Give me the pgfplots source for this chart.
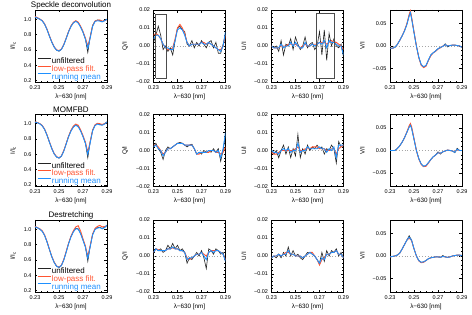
\documentclass[border=0pt]{standalone}
\usepackage{fontspec}
\setmainfont{Liberation Sans}
\usepackage{pgfplots}
\usepackage{pgfplotstable}
\pgfplotsset{compat=1.18}
\definecolor{cblack}{RGB}{35,35,35}
\definecolor{cred}{RGB}{255,85,50}
\definecolor{cblue}{RGB}{30,144,255}

% ---------------- Stokes I ----------------
\pgfplotstableread{
x k r b
0.230 1.030 1.035 1.028
0.232 1.015 1.020 1.015
0.234 1.000 1.002 1.000
0.236 0.980 0.982 0.978
0.238 0.935 0.940 0.935
0.240 0.865 0.870 0.865
0.242 0.780 0.785 0.780
0.244 0.700 0.705 0.700
0.246 0.635 0.640 0.635
0.248 0.595 0.600 0.595
0.250 0.582 0.590 0.585
0.252 0.605 0.610 0.605
0.254 0.665 0.670 0.665
0.256 0.750 0.752 0.748
0.258 0.840 0.840 0.835
0.260 0.910 0.912 0.905
0.262 0.955 0.960 0.952
0.264 0.975 0.980 0.972
0.266 0.955 0.962 0.950
0.268 0.900 0.908 0.895
0.270 0.830 0.840 0.830
0.272 0.740 0.755 0.740
0.274 0.565 0.650 0.620
0.276 0.770 0.765 0.755
0.278 0.920 0.912 0.905
0.280 0.975 0.975 0.970
0.282 0.990 0.985 0.980
0.284 0.985 0.990 0.975
0.286 0.970 0.975 0.965
0.288 0.985 0.980 0.980
0.290 1.000 0.995 1.000
}\tIa
\pgfplotstableread{
x k r b
0.230 1.025 1.025 1.020
0.232 1.015 1.015 1.012
0.234 1.000 1.000 0.998
0.236 0.975 0.978 0.972
0.238 0.925 0.930 0.925
0.240 0.850 0.855 0.850
0.242 0.760 0.765 0.760
0.244 0.675 0.680 0.675
0.246 0.605 0.610 0.605
0.248 0.565 0.570 0.565
0.250 0.550 0.555 0.552
0.252 0.575 0.580 0.575
0.254 0.645 0.650 0.642
0.256 0.740 0.742 0.735
0.258 0.835 0.838 0.830
0.260 0.910 0.915 0.905
0.262 0.960 0.970 0.955
0.264 0.985 0.995 0.980
0.266 0.965 0.980 0.960
0.268 0.910 0.920 0.905
0.270 0.835 0.845 0.830
0.272 0.745 0.760 0.745
0.274 0.555 0.630 0.600
0.276 0.765 0.765 0.750
0.278 0.915 0.915 0.905
0.280 0.980 0.985 0.975
0.282 1.000 1.005 0.995
0.284 0.990 1.000 0.985
0.286 0.985 0.990 0.980
0.288 1.000 1.000 0.995
0.290 1.025 1.015 1.020
}\tIb
\pgfplotstableread{
x k r b
0.230 1.035 1.035 1.030
0.232 1.020 1.020 1.018
0.234 1.000 1.005 1.000
0.236 0.975 0.980 0.972
0.238 0.920 0.925 0.918
0.240 0.835 0.840 0.835
0.242 0.735 0.740 0.735
0.244 0.640 0.645 0.640
0.246 0.565 0.570 0.565
0.248 0.515 0.520 0.515
0.250 0.500 0.505 0.502
0.252 0.525 0.530 0.525
0.254 0.600 0.605 0.598
0.256 0.705 0.710 0.700
0.258 0.815 0.818 0.810
0.260 0.905 0.910 0.900
0.262 0.970 0.980 0.965
0.264 1.010 1.030 1.005
0.266 1.005 1.045 1.000
0.268 0.945 0.975 0.940
0.270 0.860 0.875 0.855
0.272 0.770 0.780 0.765
0.274 0.580 0.645 0.620
0.276 0.780 0.785 0.770
0.278 0.935 0.935 0.925
0.280 1.000 1.010 0.995
0.282 1.020 1.035 1.015
0.284 1.025 1.050 1.020
0.286 1.010 1.030 1.005
0.288 1.025 1.035 1.020
0.290 1.055 1.040 1.050
}\tIc

% ---------------- Stokes Q ----------------
\pgfplotstableread{
x k r b
0.230 0.002 0.006 0.004
0.232 0.006 0.007 0.006
0.234 0.011 0.006 0.006
0.236 0.006 0.004 0.004
0.238 -0.002 0.001 0.001
0.240 0.000 -0.001 -0.001
0.242 -0.003 -0.002 -0.001
0.244 -0.001 -0.002 -0.002
0.246 -0.005 -0.001 -0.002
0.248 0.003 0.004 0.003
0.250 0.010 0.010 0.009
0.252 0.011 0.012 0.010
0.254 0.009 0.010 0.009
0.256 0.008 0.007 0.006
0.258 0.001 0.002 0.002
0.260 0.000 0.000 0.000
0.262 0.003 0.001 0.001
0.264 -0.001 0.001 0.001
0.266 0.002 0.001 0.001
0.268 0.000 0.001 0.001
0.270 0.003 0.002 0.002
0.272 0.001 0.002 0.001
0.274 -0.001 0.001 0.001
0.276 0.002 0.002 0.002
0.278 0.003 0.001 0.001
0.280 -0.001 0.000 0.000
0.282 0.002 -0.001 -0.001
0.284 -0.004 -0.002 -0.002
0.286 -0.004 -0.002 -0.003
0.288 0.001 0.000 0.000
0.290 0.007 0.006 0.008
}\tQa
\pgfplotstableread{
x k r b
0.230 0.002 0.003 0.002
0.232 0.004 0.003 0.003
0.234 0.001 0.002 0.001
0.236 -0.001 0.000 0.000
0.238 -0.005 -0.002 -0.003
0.240 0.000 -0.001 -0.001
0.242 0.002 0.001 0.001
0.244 0.001 0.001 0.001
0.246 0.002 0.002 0.002
0.248 0.003 0.003 0.003
0.250 0.004 0.004 0.004
0.252 0.0045 0.004 0.004
0.254 0.004 0.004 0.004
0.256 0.003 0.003 0.003
0.258 0.002 0.003 0.003
0.260 0.003 0.003 0.003
0.262 0.0035 0.003 0.003
0.264 0.001 0.001 0.001
0.266 -0.002 -0.002 -0.002
0.268 -0.001 -0.002 -0.001
0.270 -0.002 -0.001 -0.001
0.272 0.000 -0.001 -0.001
0.274 -0.001 -0.001 -0.001
0.276 0.000 -0.001 0.000
0.278 -0.001 0.000 0.000
0.280 0.001 0.000 0.000
0.282 -0.001 -0.001 -0.001
0.284 0.001 -0.001 0.000
0.286 -0.006 -0.002 -0.004
0.288 0.000 -0.001 0.001
0.290 0.009 0.002 0.010
}\tQb
\pgfplotstableread{
x k r b
0.230 0.002 0.002 0.002
0.232 0.004 0.004 0.004
0.234 0.003 0.0035 0.003
0.236 0.004 0.003 0.003
0.238 0.002 0.003 0.003
0.240 0.003 0.003 0.003
0.242 0.006 0.004 0.004
0.244 0.004 0.004 0.004
0.246 0.007 0.0045 0.005
0.248 0.004 0.004 0.004
0.250 0.006 0.004 0.004
0.252 0.003 0.003 0.003
0.254 0.004 0.003 0.003
0.256 0.002 0.002 0.002
0.258 -0.004 -0.001 -0.002
0.260 -0.001 -0.002 -0.001
0.262 -0.002 -0.001 -0.001
0.264 0.000 0.000 0.000
0.266 0.002 0.001 0.001
0.268 0.000 0.001 0.001
0.270 0.003 0.002 0.002
0.272 -0.001 0.001 0.000
0.274 -0.007 0.000 -0.002
0.276 0.004 0.002 0.002
0.278 0.003 0.003 0.003
0.280 0.001 0.003 0.002
0.282 0.004 0.003 0.003
0.284 0.003 0.003 0.003
0.286 0.001 0.002 0.002
0.288 0.002 0.001 0.001
0.290 -0.003 -0.002 -0.003
}\tQc

% ---------------- Stokes U ----------------
\pgfplotstableread{
x k r b
0.230 0.000 0.000 0.000
0.232 -0.001 -0.001 -0.001
0.234 0.000 -0.001 -0.001
0.236 -0.003 -0.001 -0.001
0.238 0.003 0.000 0.001
0.240 -0.005 0.000 -0.001
0.242 0.001 0.000 0.000
0.244 0.000 0.001 0.000
0.246 0.004 0.001 0.002
0.248 -0.002 0.001 0.000
0.250 0.005 0.001 0.002
0.252 0.001 0.000 0.000
0.254 -0.002 -0.001 -0.001
0.256 0.000 0.000 -0.001
0.258 0.005 0.001 0.002
0.260 -0.001 0.000 0.000
0.262 0.001 0.000 0.000
0.264 0.002 0.001 0.001
0.266 -0.002 0.001 0.000
0.268 0.000 0.001 0.001
0.270 0.008 0.002 0.002
0.272 -0.005 0.002 0.001
0.274 0.009 0.002 0.003
0.276 -0.008 0.001 -0.001
0.278 0.007 0.002 0.003
0.280 0.000 0.003 0.002
0.282 0.004 0.002 0.002
0.284 0.000 0.002 0.001
0.286 -0.001 0.001 0.000
0.288 0.001 0.000 0.000
0.290 -0.006 -0.002 -0.005
}\tUa
\pgfplotstableread{
x k r b
0.230 0.000 -0.001 0.000
0.232 -0.002 -0.002 -0.001
0.234 0.000 -0.002 -0.001
0.236 -0.004 -0.001 -0.002
0.238 0.000 0.000 0.000
0.240 0.003 0.000 0.001
0.242 -0.002 0.000 0.000
0.244 0.002 0.000 0.001
0.246 -0.004 0.000 -0.001
0.248 0.001 0.000 0.000
0.250 -0.003 0.001 0.000
0.252 0.009 0.002 0.004
0.254 -0.004 0.000 -0.001
0.256 0.001 0.000 0.000
0.258 -0.002 0.001 0.000
0.260 0.003 0.001 0.002
0.262 0.000 0.001 0.001
0.264 0.002 0.002 0.001
0.266 0.001 0.002 0.001
0.268 0.003 0.002 0.001
0.270 0.001 0.001 0.002
0.272 0.002 0.001 0.001
0.274 -0.002 0.001 0.001
0.276 0.001 0.000 -0.001
0.278 0.000 0.000 0.001
0.280 0.003 0.001 0.000
0.282 0.001 0.001 0.002
0.284 -0.007 -0.002 -0.004
0.286 0.005 0.001 0.003
0.288 0.002 0.002 0.003
0.290 0.003 0.003 0.003
}\tUb
\pgfplotstableread{
x k r b
0.230 -0.001 -0.001 -0.001
0.232 0.000 0.000 0.000
0.234 -0.001 0.000 0.000
0.236 0.001 0.001 0.001
0.238 -0.001 0.000 0.000
0.240 0.002 0.001 0.001
0.242 0.000 0.002 0.001
0.244 0.005 0.002 0.003
0.246 0.000 0.001 0.001
0.248 0.003 0.001 0.001
0.250 0.000 0.000 0.000
0.252 0.001 0.000 0.000
0.254 -0.001 0.000 0.000
0.256 -0.002 -0.001 -0.001
0.258 0.000 0.000 0.000
0.260 0.002 0.001 0.001
0.262 0.002 0.002 0.002
0.264 0.001 0.002 0.001
0.266 0.000 0.000 0.000
0.268 -0.002 -0.002 -0.002
0.270 -0.004 -0.005 -0.004
0.272 0.002 -0.002 -0.001
0.274 -0.003 -0.001 -0.002
0.276 0.003 0.001 0.001
0.278 0.000 0.001 0.001
0.280 0.003 0.002 0.002
0.282 0.002 0.002 0.002
0.284 0.004 0.003 0.003
0.286 0.000 0.001 0.001
0.288 0.002 0.001 0.001
0.290 -0.001 -0.001 -0.001
}\tUc

% ---------------- Stokes V ----------------
\pgfplotstableread{
x k r b
0.230 -0.005 -0.005 -0.005
0.232 -0.005 -0.005 -0.005
0.234 -0.003 -0.003 -0.003
0.236 0.003 0.003 0.003
0.238 0.012 0.012 0.012
0.240 0.022 0.022 0.022
0.242 0.033 0.034 0.033
0.244 0.048 0.049 0.047
0.246 0.068 0.070 0.067
0.247 0.076 0.078 0.074
0.248 0.062 0.064 0.061
0.250 0.030 0.032 0.030
0.252 0.000 0.000 0.000
0.254 -0.025 -0.026 -0.025
0.256 -0.042 -0.043 -0.041
0.258 -0.047 -0.048 -0.046
0.260 -0.044 -0.045 -0.043
0.262 -0.032 -0.032 -0.031
0.264 -0.020 -0.022 -0.020
0.266 -0.015 -0.015 -0.015
0.268 -0.011 -0.012 -0.011
0.270 -0.006 -0.007 -0.006
0.272 -0.003 -0.004 -0.003
0.274 -0.001 0.000 -0.001
0.276 0.005 0.002 0.003
0.278 -0.002 0.001 0.000
0.280 0.001 0.001 0.001
0.282 0.002 0.002 0.002
0.284 0.002 0.002 0.002
0.286 0.001 0.001 0.001
0.288 0.000 0.000 0.000
0.290 -0.003 -0.003 -0.003
}\tVa
\pgfplotstableread{
x k r b
0.230 0.000 0.000 0.000
0.232 0.000 0.000 0.000
0.234 0.000 0.000 0.000
0.236 0.004 0.004 0.004
0.238 0.010 0.010 0.010
0.240 0.018 0.018 0.018
0.242 0.028 0.028 0.028
0.244 0.040 0.041 0.040
0.246 0.053 0.055 0.052
0.247 0.057 0.060 0.056
0.248 0.050 0.053 0.049
0.250 0.025 0.027 0.025
0.252 0.000 0.000 0.000
0.254 -0.018 -0.019 -0.018
0.256 -0.030 -0.031 -0.030
0.258 -0.035 -0.036 -0.035
0.260 -0.034 -0.035 -0.033
0.262 -0.027 -0.028 -0.027
0.264 -0.020 -0.020 -0.020
0.266 -0.014 -0.014 -0.014
0.268 -0.010 -0.010 -0.010
0.270 -0.003 -0.005 -0.005
0.272 -0.008 -0.006 -0.006
0.274 -0.003 -0.003 -0.003
0.276 -0.001 -0.001 -0.001
0.278 0.001 0.001 0.001
0.280 0.000 0.000 0.000
0.282 -0.001 -0.001 -0.001
0.284 -0.005 -0.003 -0.004
0.286 0.005 0.002 0.003
0.288 0.000 0.000 0.000
0.290 0.000 0.000 0.000
}\tVb
\pgfplotstableread{
x k r b
0.230 -0.002 -0.002 -0.002
0.232 -0.001 -0.001 -0.001
0.234 0.000 0.000 0.000
0.236 0.002 0.002 0.002
0.238 0.006 0.006 0.006
0.240 0.015 0.015 0.015
0.242 0.025 0.025 0.025
0.244 0.035 0.035 0.035
0.246 0.045 0.040 0.042
0.248 0.035 0.034 0.035
0.250 0.016 0.016 0.016
0.252 0.000 0.000 0.000
0.254 -0.010 -0.011 -0.010
0.256 -0.014 -0.015 -0.014
0.258 -0.013 -0.014 -0.013
0.260 -0.010 -0.010 -0.010
0.262 -0.006 -0.006 -0.006
0.264 -0.004 -0.004 -0.004
0.266 -0.003 -0.003 -0.003
0.268 -0.002 -0.002 -0.002
0.270 -0.002 -0.002 -0.002
0.272 -0.003 -0.003 -0.003
0.274 0.001 -0.001 -0.001
0.276 -0.002 -0.002 -0.002
0.278 -0.003 -0.003 -0.003
0.280 -0.002 -0.002 -0.002
0.282 0.000 0.000 0.000
0.284 0.001 0.001 0.001
0.286 0.002 0.002 0.002
0.288 0.002 0.002 0.002
0.290 0.001 0.001 0.001
}\tVc

\pgfplotsset{
  panel/.style={
    scale only axis, width=72pt, height=72pt, anchor=south west,
    xmin=0.23, xmax=0.29,
    xtick={0.23,0.25,0.27,0.29}, xticklabels={0.23,0.25,0.27,0.29},
    minor x tick num=3, scaled ticks=false,
    tick align=inside, major tick length=2.5pt, minor tick length=1.3pt,
    every tick/.style={black, line width=0.4pt},
    axis line style={line width=0.5pt},
    xlabel={λ−630 [nm]},
    tick label style={font=\fontsize{5.5}{6}\selectfont},
    label style={font=\fontsize{6.3}{7}\selectfont},
    xlabel style={yshift=2.5pt},
    ylabel style={yshift=1pt},
    title style={font=\fontsize{8}{9}\selectfont, at={(axis description cs:0.5,1)}, anchor=base, yshift=-4pt},
  },
  ipanel/.style={panel, ymin=0.18, ymax=1.12,
    ytick={0.2,0.4,0.6,0.8,1.0}, yticklabels={0.2,0.4,0.6,0.8,1.0},
    minor y tick num=3, ylabel={I/I\textsubscript{c}},
    legend style={at={(axis description cs:0.03,0.03)}, anchor=south west,
      draw=none, fill=none, font=\fontsize{8}{8}\selectfont,
      row sep=1.3pt, inner sep=0pt,
      nodes={inner sep=0.6pt, text height=5.2pt, text depth=0pt}},
    legend cell align=left,
    legend image code/.code={\draw[##1] (0pt,2.6pt) -- (13pt,2.6pt);},
  },
  qpanel/.style={panel, ymin=-0.02, ymax=0.02,
    ytick={-0.02,-0.01,0,0.01,0.02}, yticklabels={−0.02,−0.01,0.00,0.01,0.02},
    minor y tick num=4},
  vpanel/.style={panel, ymin=-0.08, ymax=0.08,
    ytick={-0.05,0,0.05}, yticklabels={−0.05,0.00,0.05},
    minor y tick num=4, ylabel={V/I}},
}

\newcommand{\zeroline}{\addplot[gray!70, dotted, line width=0.9pt] coordinates {(0.23,0) (0.29,0)};}
\newcommand{\three}[1]{%
  \addplot[cblack, line width=0.6pt] table[x=x,y=k]{#1};
  \addplot[cred, line width=0.9pt] table[x=x,y=r]{#1};
  \addplot[cblue, line width=0.9pt] table[x=x,y=b]{#1};
}

\begin{document}
\begin{tikzpicture}
\path[use as bounding box] (0,0) rectangle (472pt,314pt);

% ===== Row 1: Speckle deconvolution =====
\begin{axis}[ipanel, at={(35pt,232pt)}, title={Speckle deconvolution}]
\three{\tIa}
\legend{unfiltered,\textcolor{cred}{low-pass filt.},\textcolor{cblue}{running mean}}
\end{axis}
\begin{axis}[qpanel, at={(153.5pt,232pt)}, ylabel={Q/I}]
\zeroline
\three{\tQa}
\addplot[gray!60!black, line width=0.5pt] coordinates {(0.2318,-0.0177) (0.2405,-0.0177) (0.2405,0.0177) (0.2318,0.0177) (0.2318,-0.0177)};
\end{axis}
\begin{axis}[qpanel, at={(271.5pt,232pt)}, ylabel={U/I}]
\zeroline
\three{\tUa}
\addplot[gray!60!black, line width=0.5pt] coordinates {(0.2669,-0.0179) (0.2819,-0.0179) (0.2819,0.0181) (0.2669,0.0181) (0.2669,-0.0179)};
\end{axis}
\begin{axis}[vpanel, at={(390pt,232pt)}]
\zeroline
\three{\tVa}
\end{axis}

% ===== Row 2: MOMFBD =====
\begin{axis}[ipanel, at={(35pt,127.5pt)}, title={MOMFBD}]
\three{\tIb}
\legend{unfiltered,\textcolor{cred}{low-pass filt.},\textcolor{cblue}{running mean}}
\end{axis}
\begin{axis}[qpanel, at={(153.5pt,127.5pt)}, ylabel={Q/I}]
\zeroline
\three{\tQb}
\end{axis}
\begin{axis}[qpanel, at={(271.5pt,127.5pt)}, ylabel={U/I}]
\zeroline
\three{\tUb}
\end{axis}
\begin{axis}[vpanel, at={(390pt,127.5pt)}]
\zeroline
\three{\tVb}
\end{axis}

% ===== Row 3: Destretching =====
\begin{axis}[ipanel, at={(35pt,22pt)}, title={Destretching}]
\three{\tIc}
\legend{unfiltered,\textcolor{cred}{low-pass filt.},\textcolor{cblue}{running mean}}
\end{axis}
\begin{axis}[qpanel, at={(153.5pt,22pt)}, ylabel={Q/I}]
\zeroline
\three{\tQc}
\end{axis}
\begin{axis}[qpanel, at={(271.5pt,22pt)}, ylabel={U/I}]
\zeroline
\three{\tUc}
\end{axis}
\begin{axis}[vpanel, at={(390pt,22pt)}]
\zeroline
\three{\tVc}
\end{axis}
\end{tikzpicture}
\end{document}
